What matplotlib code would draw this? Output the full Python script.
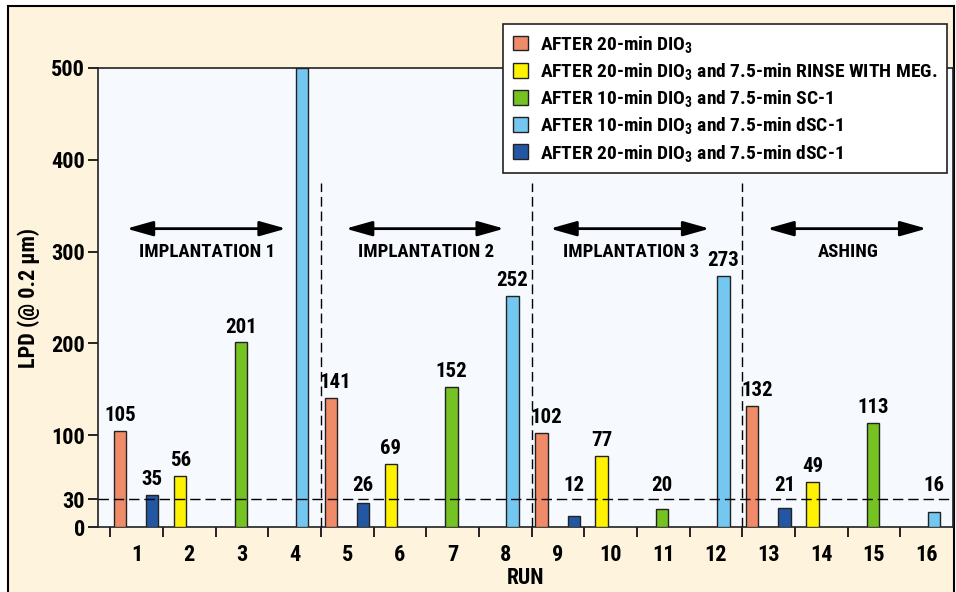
import matplotlib
matplotlib.use("Agg")
import matplotlib.pyplot as plt
from matplotlib.patches import Rectangle, Patch
from matplotlib.ticker import FixedLocator
from matplotlib import font_manager
import numpy as np

_names = {f.name for f in font_manager.fontManager.ttflist}
_pref = ['Liberation Sans Narrow', 'Roboto Condensed', 'DejaVu Sans Condensed',
         'Open Sans Condensed', 'Liberation Sans']
MAIN = next((n for n in _pref if n in _names), 'DejaVu Sans')
FONT = [MAIN, 'DejaVu Sans']
plt.rcParams['font.family'] = FONT
plt.rcParams['font.weight'] = 'bold'
plt.rcParams['mathtext.fontset'] = 'custom'
plt.rcParams['mathtext.rm'] = MAIN + ':bold'
plt.rcParams['mathtext.it'] = MAIN + ':bold'
plt.rcParams['mathtext.bf'] = MAIN + ':bold'

# ---- data ----
runs = list(range(1, 17))
series_labels = [
    "AFTER 20-min DIO$_3$",
    "AFTER 20-min DIO$_3$ and 7.5-min RINSE WITH MEG.",
    "AFTER 10-min DIO$_3$ and 7.5-min SC-1",
    "AFTER 10-min DIO$_3$ and 7.5-min dSC-1",
    "AFTER 20-min DIO$_3$ and 7.5-min dSC-1",
]
series_colors = ["#F08B69", "#FFF200", "#77C223", "#74C7F1", "#2457A3"]
s1_runs = [1, 5, 9, 13];  s1_vals = [105, 141, 102, 132]
s2_runs = [2, 6, 10, 14]; s2_vals = [56, 69, 77, 49]
s3_runs = [3, 7, 11, 15]; s3_vals = [201, 152, 20, 113]
s4_runs = [4, 8, 12, 16]; s4_vals = [500, 252, 273, 16]
s5_runs = [1, 5, 9, 13];  s5_vals = [35, 26, 12, 21]
series_runs = [s1_runs, s2_runs, s3_runs, s4_runs, s5_runs]
series_vals = [s1_vals, s2_vals, s3_vals, s4_vals, s5_vals]
series_offsets = [-0.31, -0.17, -0.02, 0.14, 0.30]
label_dx = [0.09, 0.0, 0.0, 0.0, 0.0]

groups = ["IMPLANTATION 1", "IMPLANTATION 2", "IMPLANTATION 3", "ASHING"]
group_arrow_start = [0.81, 4.97, 8.85, 12.97]
group_arrow_end = [3.84, 7.98, 11.88, 16.0]
group_text_x = [2.34, 6.5, 10.38, 14.52]
separators = [4.5, 8.5, 12.5]
yticks = [0, 30, 100, 200, 300, 400, 500]
threshold = 30

W, H = 956, 592
fig = plt.figure(figsize=(W / 100, H / 100), dpi=100, facecolor="white")
bg = Rectangle((8 / W, -0.02), (954 - 8) / W, 1.02 - 6 / H,
               transform=fig.transFigure, facecolor="#FEF4DE",
               edgecolor="black", linewidth=1.5, zorder=-10)
fig.add_artist(bg)

ax = fig.add_axes([97.5 / W, 1 - 527 / H, (953 - 97.5) / W, (527 - 68) / H])
ax.set_zorder(1)
ax.set_facecolor("#F6F9FD")
ax.set_xlim(0.26, 16.5)
ax.set_ylim(0, 500)

bw = 0.235
for k in range(5):
    x = np.array(series_runs[k]) + series_offsets[k]
    ax.bar(x, series_vals[k], width=bw, color=series_colors[k],
           edgecolor="#222222", linewidth=1.0, zorder=3)
    for xi, v in zip(x, series_vals[k]):
        if v >= 500:
            continue
        ax.text(xi + (label_dx[k] if xi > 2 else 0), max(v, 28) + 6.5, str(v),
                ha="center", va="bottom", fontsize=15, fontweight="bold",
                zorder=5)

hl = ax.axhline(threshold, color="black", linewidth=1.0, zorder=4)
hl.set_dashes([7.5, 3.5])
for s in separators:
    ln, = ax.plot([s, s], [0, 375], color="black", linewidth=1.0, zorder=4)
    ln.set_dashes([7.0, 3.5])

for a0, a1, tx, name in zip(group_arrow_start, group_arrow_end, group_text_x, groups):
    ax.annotate("", xy=(a1, 325), xytext=(a0, 325),
                arrowprops=dict(arrowstyle="<|-|>,head_length=1.6,head_width=0.45",
                                color="black", lw=2.0, shrinkA=0, shrinkB=0),
                zorder=5)
    ax.text(tx, 300, name, ha="center", va="center", fontsize=13.5,
            fontweight="bold")

ax.set_xticks(runs)
ax.set_xticklabels([str(r) for r in runs], fontsize=16, fontweight="bold")
ax.tick_params(axis="x", which="major", length=0, pad=12)
ax.xaxis.set_minor_locator(FixedLocator(np.arange(0.5, 16.0, 1.0)))
ax.tick_params(axis="x", which="minor", length=7, width=1.2, direction="out")
ax.set_yticks(yticks)
ax.set_yticklabels([str(t) for t in yticks], fontsize=16, fontweight="bold")
ax.tick_params(axis="y", length=7, width=1.2, direction="out", pad=2)
for sp in ax.spines.values():
    sp.set_linewidth(1.2)
    sp.set_color("#222222")

ax.set_xlabel("RUN", fontsize=15.5, fontweight="bold", labelpad=1)
ax.set_ylabel("LPD (@ 0.2 µm)", fontsize=16, fontweight="bold", labelpad=8)

handles = [Patch(facecolor=c, edgecolor="#222222", linewidth=1.0) for c in series_colors]
leg = fig.legend(handles, series_labels, loc="upper left",
                 bbox_to_anchor=(503 / W, 1 - 24 / H), borderaxespad=0,
                 frameon=True, fancybox=False, edgecolor="#222222", framealpha=1,
                 prop=dict(family=FONT, weight="bold", size=14),
                 handlelength=0.8, handleheight=0.8, handletextpad=0.6,
                 labelspacing=0.32, borderpad=0.5)
leg.get_frame().set_linewidth(1.2)
leg.set_zorder(10)

fig.savefig("out.png", dpi=100, facecolor=fig.get_facecolor())
